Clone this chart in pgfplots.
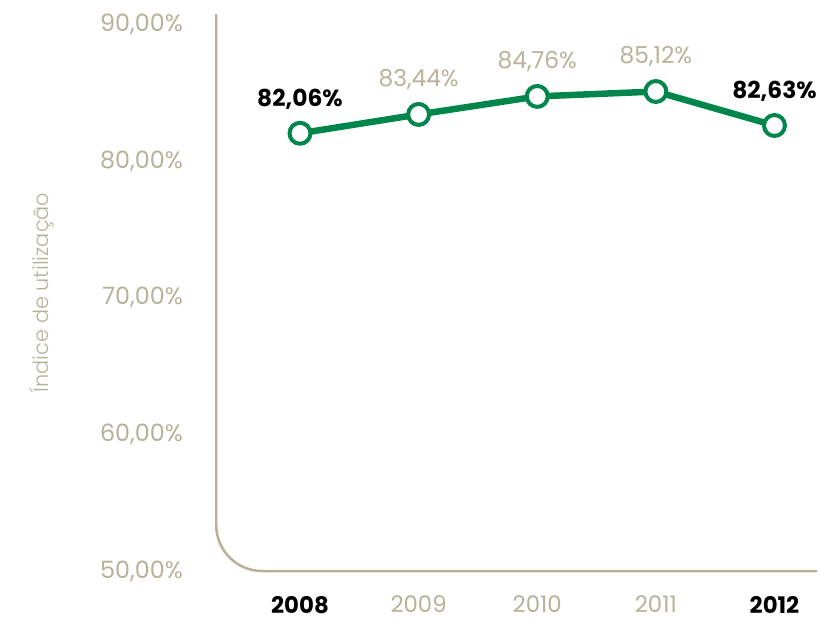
\documentclass[border=0pt]{standalone}
\usepackage{fontspec}
\setmainfont{Poppins}
\newfontfamily\lightfont{Poppins Light}
\usepackage{pgfplots}
\pgfplotsset{compat=1.18}
\definecolor{beige}{RGB}{185,176,152}
\definecolor{verde}{RGB}{0,133,74}
\begin{document}
\begin{tikzpicture}
\begin{axis}[
  scale only axis, width=603bp, height=559bp,
  xmin=-0.706, xmax=4.36, ymin=50, ymax=90.8,
  axis line style={draw=none},
  major tick length=0pt,
  clip=false,
  ytick={50,60,70,80,90},
  yticklabels={{50,00\%},{60,00\%},{70,00\%},{80,00\%},{90,00\%}},
  xtick={0,1,2,3,4},
  xticklabels={{\textcolor{black}{\bfseries 2008}},2009,2010,2011,{\textcolor{black}{\bfseries 2012}}},
  tick label style={font=\fontsize{24}{28}\selectfont, text=beige},
  y tick label style={anchor=east, xshift=-30bp},
  x tick label style={font=\fontsize{23}{26}\selectfont, inner sep=0pt, yshift=-25bp},
  ylabel={Índice de utilização},
  ylabel style={at={(axis description cs:-0.29,0.5)}, anchor=center,
    font=\lightfont\fontsize{21}{24}\selectfont, text=beige},
  nodes near coords, point meta=explicit symbolic,
  every node near coord/.append style={font=\fontsize{23.5}{27}\selectfont,
    text=beige, yshift=19bp},
]
\draw[beige, line width=2.5bp, rounded corners=46bp]
  (rel axis cs:0,1) -- (rel axis cs:0,0) -- (rel axis cs:1,0);
\addplot[verde, line width=6.5bp, mark=*, mark size=10.5bp,
  mark options={fill=white, draw=verde, line width=4bp}]
  coordinates {
    (0,82.06) [\textcolor{black}{\bfseries 82,06\%}]
    (1,83.44) [83,44\%]
    (2,84.76) [84,76\%]
    (3,85.12) [85,12\%]
    (4,82.63) [\textcolor{black}{\bfseries 82,63\%}]
  };
\path (rel axis cs:0,0) ++(-217bp,-54bp) rectangle ++(820bp,627bp);
\end{axis}
\end{tikzpicture}
\end{document}
